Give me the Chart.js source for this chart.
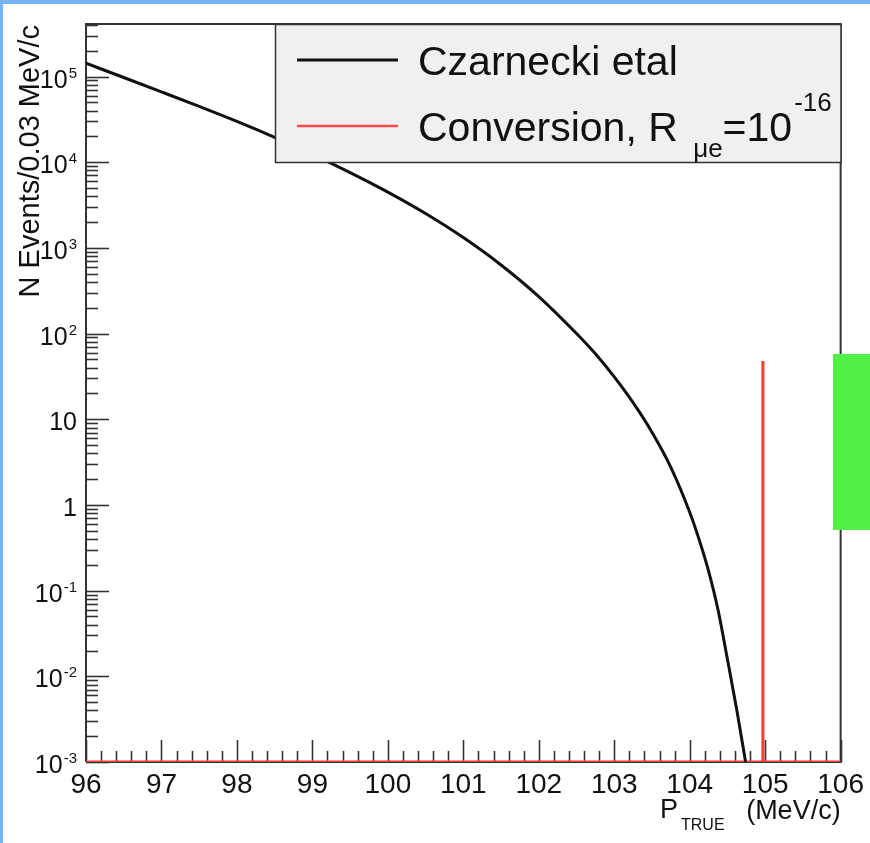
<!DOCTYPE html>
<html>
<head>
<meta charset="utf-8">
<script src="https://cdn.jsdelivr.net/npm/chart.js@4.4.1/dist/chart.umd.min.js"></script>
<style>
  html, body { margin: 0; padding: 0; background: #ffffff; }
  #wrap { position: relative; width: 870px; height: 843px; overflow: hidden; background: #ffffff; }
  #c { position: absolute; left: 0; top: 0; }
  #topband { position: absolute; left: 0; top: 0; width: 870px; height: 4px; background: #74b4f6; z-index: 2; }
  #leftband { position: absolute; left: 0; top: 0; width: 3px; height: 843px; background: #74b4f6; z-index: 2; }
  #green { position: absolute; left: 833px; top: 354px; width: 37px; height: 176px; background: #50f046; z-index: 2; }
</style>
</head>
<body>
<div id="wrap">
  <canvas id="c" width="870" height="843"></canvas>
  <div id="topband"></div>
  <div id="leftband"></div>
  <div id="green"></div>
</div>
<script>
// ---------------- data ----------------
const momentum   = [96.0, 96.5, 97.0, 97.5, 98.0, 98.5, 99.0, 99.5, 100.0, 100.5, 101.0, 101.5, 102.0, 102.5, 102.75, 103.0, 103.25, 103.5, 103.75, 104.0, 104.125, 104.25, 104.375, 104.5, 104.625, 104.75];
const czarnecki  = [1.43e5, 9.73e4, 6.61e4, 4.47e4, 2.99e4, 1.95e4, 1.236e4, 7.57e3, 4.48e3, 2.52e3, 1.32e3, 632, 270, 100, 58.0, 31.2, 15.6, 7.06, 2.75, 0.822, 0.394, 0.169, 0.0598, 0.0158, 0.0040, 8.9e-4];
const conversionX = [96.0, 104.97, 104.97, 104.97, 106.0];
const conversionY = [1e-3, 1e-3, 48, 1e-3, 1e-3];
const seriesNames = ['Czarnecki etal', 'Conversion, R'];
const xTickValues = [96, 97, 98, 99, 100, 101, 102, 103, 104, 105, 106];
const yDecades    = [1e-3, 1e-2, 1e-1, 1, 10, 1e2, 1e3, 1e4, 1e5];
const yLabelBase  = ['10', '10', '10', '1', '10', '10', '10', '10', '10'];
const yLabelExp   = ['-3', '-2', '-1', '', '', '2', '3', '4', '5'];
const xMin = 96, xMax = 106, yMin = 1e-3, yMax = 4.1e5;

const FONT = '"Liberation Sans", Arial, Helvetica, sans-serif';
const ctxEl = document.getElementById('c');

const rootStyle = {
  id: 'rootStyle',
  beforeDatasetsDraw(chart) {
    const ctx = chart.ctx, a = chart.chartArea;
    const xs = chart.scales.x, ys = chart.scales.y;
    ctx.save();
    // frame
    ctx.strokeStyle = '#333'; ctx.lineWidth = 2;
    ctx.beginPath();
    ctx.moveTo(a.left, a.bottom); ctx.lineTo(a.left, a.top); ctx.lineTo(a.right, a.top); ctx.lineTo(a.right, a.bottom); ctx.lineTo(a.left, a.bottom);
    ctx.stroke();
    // x ticks (inward)
    ctx.lineWidth = 1.6; ctx.strokeStyle = '#333';
    for (let v = xMin; v <= xMax + 1e-9; v += 0.2) {
      const r = Math.round(v * 10) / 10;
      const isMajor = Math.abs(r - Math.round(r)) < 1e-6;
      const px = Math.round(xs.getPixelForValue(r)) + 0.5;
      ctx.beginPath();
      ctx.moveTo(px, a.bottom); ctx.lineTo(px, a.bottom - (isMajor ? 22 : 11));
      ctx.stroke();
    }
    // y ticks (inward)
    for (let e = -3; e <= 5; e++) {
      for (let k = 1; k <= 9; k++) {
        const v = k * Math.pow(10, e);
        if (v < yMin * 0.999 || v > yMax) continue;
        const py = Math.round(ys.getPixelForValue(v)) + 0.5;
        ctx.beginPath();
        ctx.moveTo(a.left, py); ctx.lineTo(a.left + (k === 1 ? 23 : 12), py);
        ctx.stroke();
      }
    }
    ctx.restore();
  },
  afterDraw(chart) {
    const ctx = chart.ctx, a = chart.chartArea;
    const ys = chart.scales.y;
    ctx.save();
    ctx.fillStyle = '#111';
    // y tick labels with superscript exponents
    yDecades.forEach((v, i) => {
      const py = ys.getPixelForValue(v);
      const base = yLabelBase[i], ex = yLabelExp[i];
      ctx.font = '25px ' + FONT;
      const bw = ctx.measureText(base).width;
      ctx.font = '15px ' + FONT;
      const ew = ex ? ctx.measureText(ex).width + 1 : 0;
      const right = 77;
      ctx.font = '25px ' + FONT;
      ctx.textAlign = 'left'; ctx.textBaseline = 'alphabetic';
      ctx.fillText(base, right - ew - bw, py + 11);
      if (ex) {
        ctx.font = '15px ' + FONT;
        ctx.fillText(ex, right - ew + 1, py + 1);
      }
    });
    // y title
    ctx.save();
    ctx.translate(39, 25);
    ctx.rotate(-Math.PI / 2);
    ctx.font = '29px ' + FONT;
    ctx.textAlign = 'right'; ctx.textBaseline = 'alphabetic';
    ctx.fillText('N Events/0.03 MeV/c', 0, 0);
    ctx.restore();
    // x title
    ctx.textAlign = 'left'; ctx.textBaseline = 'alphabetic';
    ctx.font = '27px ' + FONT;
    ctx.fillText('P', 660, 818);
    ctx.font = '16px ' + FONT;
    ctx.fillText('TRUE', 681, 830);
    ctx.font = '27px ' + FONT;
    ctx.textAlign = 'right';
    ctx.fillText('(MeV/c)', a.right, 819);
    // legend box
    const lx = 275, ly = a.top, lw = a.right - 275, lh = 162 - a.top;
    ctx.fillStyle = '#f0f0f0';
    ctx.fillRect(lx, ly, lw, lh);
    ctx.strokeStyle = '#333'; ctx.lineWidth = 1.5;
    ctx.strokeRect(lx + 0.5, ly + 0.5, lw, lh);
    // legend entries
    const ds = chart.data.datasets;
    ctx.lineWidth = 3; ctx.strokeStyle = ds[0].borderColor;
    ctx.beginPath(); ctx.moveTo(297, 60); ctx.lineTo(398, 60); ctx.stroke();
    ctx.lineWidth = 2.5; ctx.strokeStyle = '#ff4a4a';
    ctx.beginPath(); ctx.moveTo(297, 126); ctx.lineTo(398, 126); ctx.stroke();
    ctx.fillStyle = '#111'; ctx.textAlign = 'left';
    ctx.font = '41px ' + FONT;
    ctx.fillText(seriesNames[0], 418, 75);
    ctx.fillText(seriesNames[1], 418, 141);
    let x = 418 + ctx.measureText(seriesNames[1] + ' ').width + 4;
    ctx.font = '26px ' + FONT;
    ctx.fillText('\u03bce', x, 157);
    x += ctx.measureText('\u03bce').width;
    ctx.font = '41px ' + FONT;
    ctx.fillText('=10', x, 141);
    x += ctx.measureText('=10').width + 2;
    ctx.font = '26px ' + FONT;
    ctx.fillText('-16', x, 111);
    ctx.restore();
  }
};

new Chart(ctxEl, {
  type: 'scatter',
  data: {
    datasets: [
      {
        label: seriesNames[0],
        data: momentum.map((m, i) => ({ x: m, y: czarnecki[i] })),
        showLine: true, borderColor: '#111111', borderWidth: 3,
        pointRadius: 0, cubicInterpolationMode: 'monotone'
      },
      {
        label: seriesNames[1],
        data: conversionX.map((m, i) => ({ x: m, y: conversionY[i] })),
        showLine: true, borderColor: '#ff3b30', borderWidth: 3,
        pointRadius: 0, tension: 0
      }
    ]
  },
  options: {
    responsive: false, animation: false, devicePixelRatio: 1,
    layout: { padding: { left: 0, top: 24, right: 27, bottom: 0 } },
    plugins: { legend: { display: false }, tooltip: { enabled: false } },
    scales: {
      x: {
        type: 'linear', min: xMin, max: xMax,
        afterBuildTicks(scale) { scale.ticks = xTickValues.map(v => ({ value: v })); },
        afterFit(scale) { scale.height = 81; },
        grid: { display: false, drawTicks: false },
        border: { display: false },
        ticks: {
          autoSkip: false, maxRotation: 0, padding: 6, color: '#111',
          font: { family: FONT, size: 28 },
          callback: (v) => String(v)
        }
      },
      y: {
        type: 'logarithmic', min: yMin, max: yMax,
        afterFit(scale) { scale.width = 86; },
        grid: { display: false, drawTicks: false },
        border: { display: false },
        ticks: { display: false }
      }
    }
  },
  plugins: [rootStyle]
});
</script>
</body>
</html>
